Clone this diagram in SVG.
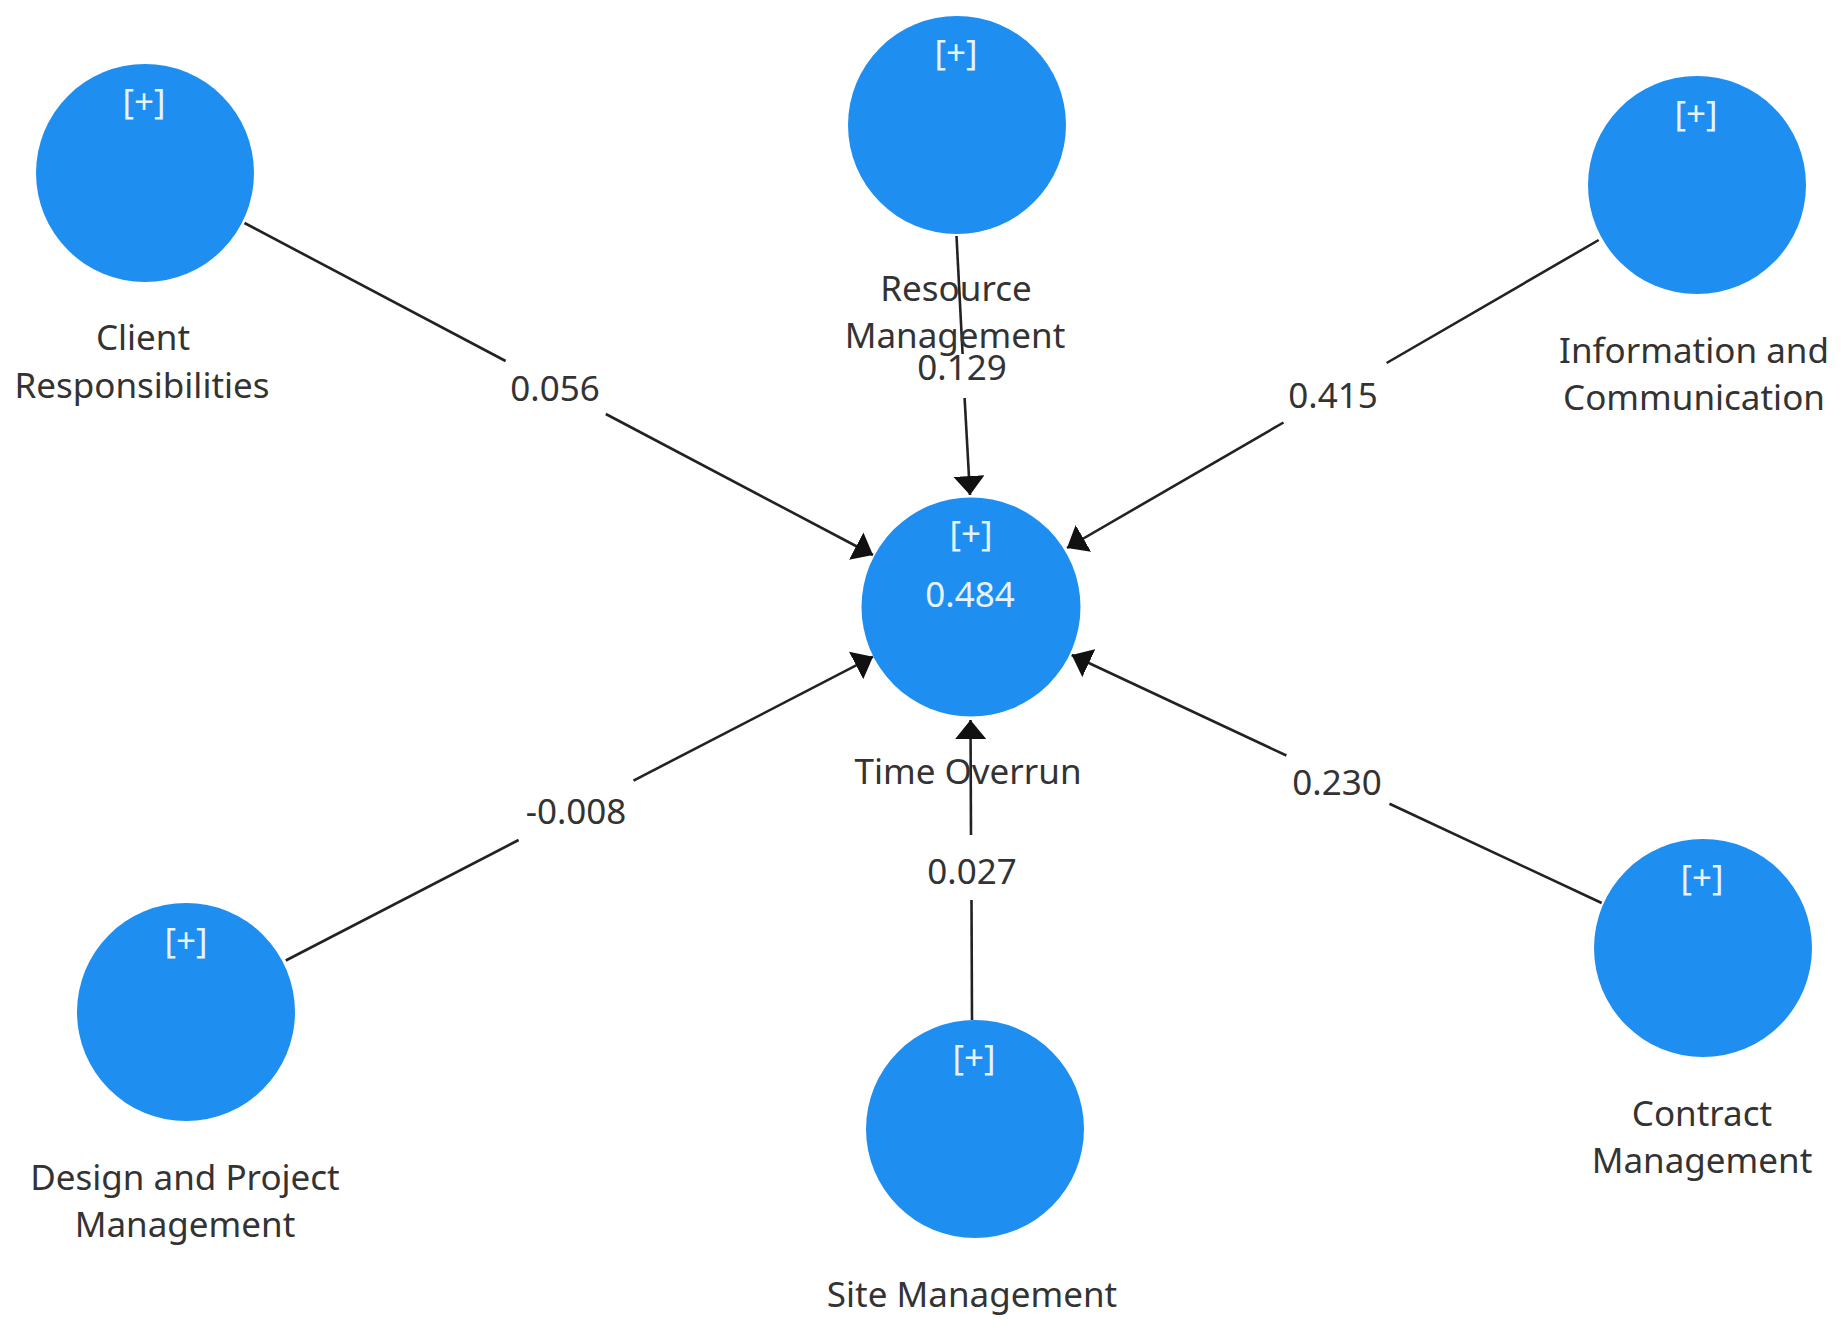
<svg xmlns="http://www.w3.org/2000/svg" width="1848" height="1335" viewBox="0 0 1848 1335">
<style>
  .node { fill: #1E8FF0; }
  .lbl { font-family: "Noto Sans", "Open Sans", sans-serif; font-size: 35px; fill: #333333; text-anchor: middle; }
  .plus { font-family: "Noto Sans", "Open Sans", sans-serif; font-size: 35px; fill: #E6F3FF; text-anchor: middle; }
  .val { font-family: "Noto Sans", "Open Sans", sans-serif; font-size: 35px; fill: #333333; text-anchor: middle; }
  .edge { stroke: #222222; stroke-width: 2.6; fill: none; }
</style>
<defs>
  <marker id="arrow" markerUnits="userSpaceOnUse" markerWidth="19" markerHeight="31" refX="19" refY="15.5" orient="auto" viewBox="0 0 19 31">
    <path d="M0,0 L19,15.5 L0,31 Z" fill="#111111"/>
  </marker>
</defs>
<rect width="1848" height="1335" fill="#ffffff"/>

<g id="connectors">
  <g id="edge-client">
    <line class="edge" x1="244.5" y1="223" x2="505.6" y2="361"/>
    <line class="edge" x1="605.8" y1="414" x2="873" y2="555" marker-end="url(#arrow)"/>
    <text class="val" x="555" y="401">0.056</text>
  </g>
  <g id="edge-resource">
    <line class="edge" x1="956.5" y1="236" x2="962.6" y2="354"/>
    <line class="edge" x1="964.6" y1="398" x2="970" y2="495" marker-end="url(#arrow)"/>
    <text class="val" x="962" y="380">0.129</text>
  </g>
  <g id="edge-info">
    <line class="edge" x1="1598.7" y1="240" x2="1386.6" y2="363"/>
    <line class="edge" x1="1283.5" y1="422.5" x2="1067" y2="548" marker-end="url(#arrow)"/>
    <text class="val" x="1333" y="408">0.415</text>
  </g>
  <g id="edge-design">
    <line class="edge" x1="285.8" y1="960.5" x2="518.6" y2="840"/>
    <line class="edge" x1="633.5" y1="780.6" x2="873" y2="656.7" marker-end="url(#arrow)"/>
    <text class="val" x="576" y="824">-0.008</text>
  </g>
  <g id="edge-site">
    <line class="edge" x1="972" y1="1020" x2="971.5" y2="900"/>
    <line class="edge" x1="971" y1="835" x2="970.5" y2="720" marker-end="url(#arrow)"/>
    <text class="val" x="972" y="884">0.027</text>
  </g>
  <g id="edge-contract">
    <line class="edge" x1="1601.7" y1="903" x2="1389.5" y2="803.7"/>
    <line class="edge" x1="1286.4" y1="755.5" x2="1071.7" y2="655" marker-end="url(#arrow)"/>
    <text class="val" x="1337" y="795">0.230</text>
  </g>
</g>

<g id="node-client">
  <circle class="node" cx="145" cy="173" r="109"/>
  <text class="plus" x="144" y="114">[+]</text>
  <text class="lbl" x="143" y="350">Client</text>
  <text class="lbl" x="142" y="398">Responsibilities</text>
</g>

<g id="node-resource">
  <circle class="node" cx="957" cy="125" r="109"/>
  <text class="plus" x="956" y="65">[+]</text>
  <text class="lbl" x="956" y="301">Resource</text>
  <text class="lbl" x="955" y="348">Management</text>
</g>

<g id="node-info">
  <circle class="node" cx="1697" cy="185" r="109"/>
  <text class="plus" x="1696" y="126">[+]</text>
  <text class="lbl" x="1694" y="363">Information and</text>
  <text class="lbl" x="1694" y="410">Communication</text>
</g>

<g id="node-time">
  <circle class="node" cx="971" cy="607" r="109.5"/>
  <text class="plus" x="971" y="546">[+]</text>
  <text class="plus" x="970" y="607">0.484</text>
  <text class="lbl" x="968" y="784">Time Overrun</text>
</g>

<g id="node-design">
  <circle class="node" cx="186" cy="1012" r="109"/>
  <text class="plus" x="186" y="953">[+]</text>
  <text class="lbl" x="185" y="1190">Design and Project</text>
  <text class="lbl" x="185" y="1237">Management</text>
</g>

<g id="node-site">
  <circle class="node" cx="975" cy="1129" r="109"/>
  <text class="plus" x="974" y="1070">[+]</text>
  <text class="lbl" x="972" y="1307">Site Management</text>
</g>

<g id="node-contract">
  <circle class="node" cx="1703" cy="948" r="109"/>
  <text class="plus" x="1702" y="890">[+]</text>
  <text class="lbl" x="1702" y="1126">Contract</text>
  <text class="lbl" x="1702" y="1173">Management</text>
</g>
</svg>
